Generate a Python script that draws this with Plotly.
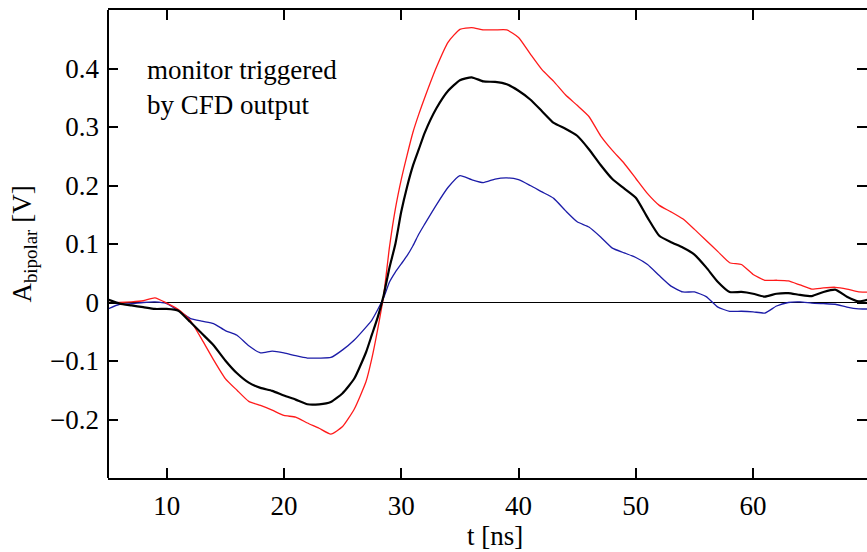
import plotly.graph_objects as go

# time axis [ns]
t = [5, 6, 7, 8, 9, 10, 11, 12, 13, 14, 15, 16, 17, 18, 19, 20, 21, 22, 23, 24, 25, 26, 27,
     27.5, 28, 28.5, 29, 29.5, 30, 30.5, 31, 31.5, 32,
     33, 34, 35, 36, 37, 38, 39, 40, 41, 42, 43, 44, 45, 46, 47, 48, 49, 50,
     51, 52, 53, 54, 55, 56, 57, 58, 59, 60, 61, 62, 63, 64, 65, 66, 67, 68, 69, 70]

red = [0.000, 0.000, 0.001, 0.003, 0.008, -0.001, -0.012, -0.030, -0.063, -0.098, -0.130, -0.150,
       -0.169, -0.176, -0.184, -0.193, -0.196, -0.206, -0.215, -0.225, -0.212, -0.182, -0.135,
       -0.095, -0.045, 0.012, 0.095, 0.160, 0.210, 0.252, 0.291, 0.322, 0.350,
       0.402, 0.445, 0.467, 0.470, 0.466, 0.466, 0.466, 0.453, 0.425, 0.398, 0.378, 0.355,
       0.337, 0.318, 0.285, 0.260, 0.238, 0.212, 0.186, 0.166, 0.155, 0.143, 0.125, 0.106,
       0.087, 0.068, 0.065, 0.048, 0.038, 0.038, 0.037, 0.030, 0.023, 0.025, 0.026, 0.023,
       0.018, 0.018]

black = [0.005, -0.002, -0.005, -0.008, -0.011, -0.011, -0.014, -0.033, -0.053, -0.073, -0.099,
         -0.121, -0.137, -0.146, -0.151, -0.159, -0.166, -0.174, -0.174, -0.170, -0.155, -0.130,
         -0.085, -0.055, -0.025, 0.012, 0.060, 0.100, 0.155, 0.198, 0.234, 0.262, 0.290,
         0.332, 0.362, 0.380, 0.385, 0.378, 0.377, 0.373, 0.362, 0.347, 0.327, 0.307, 0.297,
         0.285, 0.262, 0.235, 0.211, 0.195, 0.179, 0.145, 0.114, 0.103, 0.094, 0.082, 0.060,
         0.035, 0.018, 0.018, 0.015, 0.010, 0.015, 0.016, 0.013, 0.011, 0.018, 0.022, 0.010,
         0.002, 0.006]

blue = [-0.011, -0.003, -0.002, 0.000, 0.001, -0.002, -0.014, -0.027, -0.032, -0.036, -0.048,
        -0.056, -0.074, -0.086, -0.083, -0.086, -0.091, -0.095, -0.095, -0.094, -0.081, -0.064,
        -0.042, -0.030, -0.012, 0.008, 0.035, 0.052, 0.066, 0.080, 0.097, 0.117, 0.134,
        0.167, 0.197, 0.217, 0.210, 0.205, 0.211, 0.213, 0.210, 0.200, 0.189, 0.178, 0.157,
        0.138, 0.129, 0.112, 0.093, 0.085, 0.077, 0.065, 0.046, 0.028, 0.018, 0.018, 0.010,
        -0.008, -0.015, -0.015, -0.016, -0.018, -0.006, 0.000, 0.001, -0.001, -0.002, -0.003,
        -0.008, -0.011, -0.011]

x_ticks = [10, 20, 30, 40, 50, 60]
x_ticktext = ["10", "20", "30", "40", "50", "60"]
y_ticks = [-0.2, -0.1, 0, 0.1, 0.2, 0.3, 0.4]
y_ticktext = ["\u22120.2", "\u22120.1", "0", "0.1", "0.2", "0.3", "0.4"]

FONT = "Liberation Serif, Times New Roman, serif"

fig = go.Figure()
fig.add_trace(go.Scatter(x=t, y=blue, mode="lines",
                         line=dict(color="#1c1ca8", width=1.3, shape="spline", smoothing=0.5),
                         showlegend=False))
fig.add_trace(go.Scatter(x=t, y=red, mode="lines",
                         line=dict(color="#ff1a1a", width=1.3, shape="spline", smoothing=0.5),
                         showlegend=False))
fig.add_trace(go.Scatter(x=t, y=black, mode="lines",
                         line=dict(color="black", width=2.2, shape="spline", smoothing=0.5),
                         showlegend=False))

fig.update_layout(
    width=867, height=552,
    margin=dict(l=108, r=0, t=10, b=74),
    paper_bgcolor="white", plot_bgcolor="white",
    font=dict(family=FONT, size=27, color="black"),
    xaxis=dict(range=[5, 69.71], tickvals=x_ticks, ticktext=x_ticktext,
               ticks="inside", ticklen=10, tickwidth=2, tickcolor="black",
               showline=True, linewidth=2, linecolor="black", mirror="ticks",
               showgrid=False, zeroline=False, ticklabelstandoff=3),
    yaxis=dict(range=[-0.3, 0.5], tickvals=y_ticks, ticktext=y_ticktext,
               ticks="inside", ticklen=10, tickwidth=2, tickcolor="black",
               showline=False, mirror="ticks",
               showgrid=False, zeroline=True, zerolinecolor="black", zerolinewidth=1,
               ticklabelstandoff=8,
               title=dict(text="A<sub>bipolar</sub> [V]", standoff=10,
                          font=dict(family=FONT, size=27))),
    annotations=[
        dict(text="monitor triggered<br>by CFD output", x=0.049, y=0.908,
             xref="paper", yref="paper", xanchor="left", yanchor="top",
             showarrow=False, align="left", font=dict(family=FONT, size=27)),
        dict(text="t [ns]", x=0.51, y=-0.124, xref="paper", yref="paper",
             xanchor="center", yanchor="middle", showarrow=False,
             font=dict(family=FONT, size=27)),
    ],
    shapes=[dict(type="line", xref="paper", yref="paper", x0=0, x1=0, y0=0, y1=1,
                 line=dict(color="black", width=2))],
)

fig.write_html("out.html")
